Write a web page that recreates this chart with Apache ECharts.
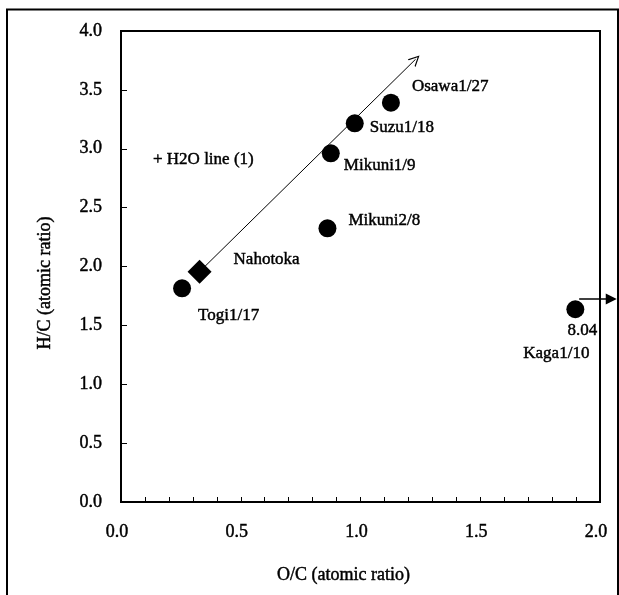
<!DOCTYPE html>
<html>
<head>
<meta charset="utf-8">
<script src="https://cdn.jsdelivr.net/npm/echarts@6/dist/echarts.min.js"></script>
<style>
  html, body { margin: 0; padding: 0; background: #fff; }
  #chart { width: 619px; height: 595px; }
</style>
</head>
<body>
<div id="chart"></div>
<script>
// ---- data ----
const sampleNames = ['Togi1/17', 'Mikuni1/9', 'Suzu1/18', 'Osawa1/27', 'Mikuni2/8', 'Kaga1/10'];
const oxygenCarbon = [0.255, 0.876, 0.976, 1.127, 0.862, 1.897];
const hydrogenCarbon = [1.815, 2.961, 3.216, 3.391, 2.324, 1.637];
const nahotokaName = 'Nahotoka';
const nahotokaPoint = [0.328, 1.956];
const h2oLineEnd = [1.23, 3.76];
const kagaTrueHC = '8.04';
const kagaArrowFrom = [1.913, 1.725];
const kagaArrowTo = [2.047, 1.725];
const xTicks = [0.0, 0.5, 1.0, 1.5, 2.0];
const yTicks = [0.0, 0.5, 1.0, 1.5, 2.0, 2.5, 3.0, 3.5, 4.0];
const xTitle = 'O/C (atomic ratio)';
const yTitle = 'H/C (atomic ratio)';
const h2oNote = '+ H2O line (1)';

// ---- styling (label offsets in px) ----
const labelOffsets = [[16, 27], [13, 12], [15, 4], [21, -16], [21, -8], [7, 21]];
const FONT = 'Liberation Serif';
const ink = { color: '#000', textBorderColor: '#000', textBorderWidth: 0.45 };

const chart = echarts.init(document.getElementById('chart'), null, { renderer: 'canvas' });

const circleData = oxygenCarbon.map((x, i) => ({
  value: [x, hydrogenCarbon[i]],
  name: sampleNames[i],
  label: i === 5
    ? { formatter: kagaTrueHC, align: 'center', offset: labelOffsets[i] }
    : { formatter: sampleNames[i], align: 'left', offset: labelOffsets[i] }
}));

const openArrow = 'path://M5,0 L10,11 L8.8,11 L5,2.6 L1.2,11 L0,11 Z';
const gText = (text, size, align) => ({
  text, font: size + 'px "Liberation Serif"', fill: '#000',
  stroke: '#000', lineWidth: 0.45, textAlign: align, textVerticalAlign: 'middle'
});

const option = {
  animation: false,
  backgroundColor: '#fff',
  textStyle: { fontFamily: FONT, color: '#000' },
  grid: {
    left: 121, right: 19, top: 31, bottom: 93,
    show: true, borderColor: '#000', borderWidth: 2
  },
  xAxis: {
    type: 'value', min: 0, max: 2, interval: 0.5,
    axisLine: { show: true, onZero: false, lineStyle: { color: '#000', width: 2 } },
    axisTick: { show: true, inside: true, length: 5, lineStyle: { color: '#000', width: 1 } },
    minorTick: { show: true, splitNumber: 5, length: 5, lineStyle: { color: '#000', width: 1 } },
    splitLine: { show: false },
    axisLabel: Object.assign({
      margin: 21, fontFamily: FONT, fontSize: 18, padding: [0, 8, 0, 0],
      formatter: v => xTicks.includes(v) ? v.toFixed(1) : ''
    }, ink)
  },
  yAxis: {
    type: 'value', min: 0, max: 4, interval: 0.5,
    axisLine: { show: true, onZero: false, lineStyle: { color: '#000', width: 2 } },
    axisTick: { show: true, inside: true, length: 6, lineStyle: { color: '#000', width: 1 } },
    splitLine: { show: false },
    axisLabel: Object.assign({
      margin: 19, fontFamily: FONT, fontSize: 18,
      formatter: v => yTicks.includes(v) ? v.toFixed(1) : ''
    }, ink)
  },
  graphic: [
    { type: 'rect', z: 100, silent: true,
      shape: { x: 7, y: 9.5, width: 611, height: 620 },
      style: { fill: 'none', stroke: '#000', lineWidth: 2 } },
    { type: 'text', z: 100, x: 343.5, y: 575, style: gText(xTitle, 18, 'center') },
    { type: 'text', z: 100, x: 45, y: 283, rotation: Math.PI / 2, style: gText(yTitle, 18, 'center') },
    { type: 'text', z: 100, x: 153, y: 160, style: gText(h2oNote, 17, 'left') }
  ],
  series: [
    {
      type: 'lines', coordinateSystem: 'cartesian2d', clip: false, z: 3,
      symbol: ['none', openArrow], symbolSize: [9, 11],
      lineStyle: { color: '#000', width: 1, opacity: 1 },
      data: [{ coords: [nahotokaPoint, h2oLineEnd] }]
    },
    {
      type: 'lines', coordinateSystem: 'cartesian2d', clip: false, z: 3,
      symbol: ['none', 'triangle'], symbolSize: [10, 11],
      lineStyle: { color: '#000', width: 1.5, opacity: 1 },
      data: [{ coords: [kagaArrowFrom, kagaArrowTo] }]
    },
    {
      type: 'scatter', z: 5, symbol: 'circle', symbolSize: 18,
      itemStyle: { color: '#000', opacity: 1 },
      label: Object.assign({
        show: true, position: 'inside', verticalAlign: 'middle',
        fontFamily: FONT, fontSize: 17
      }, ink),
      data: circleData
    },
    {
      type: 'scatter', z: 5, symbol: 'diamond', symbolSize: [24, 24],
      itemStyle: { color: '#000', opacity: 1 },
      label: Object.assign({
        show: true, position: 'inside', align: 'left', verticalAlign: 'middle',
        offset: [34, -12], fontFamily: FONT, fontSize: 17,
        formatter: nahotokaName
      }, ink),
      data: [nahotokaPoint]
    },
    {
      type: 'scatter', z: 5, symbol: 'circle', symbolSize: 1,
      itemStyle: { color: 'rgba(0,0,0,0)', opacity: 1 },
      label: Object.assign({
        show: true, position: 'inside', align: 'center', verticalAlign: 'middle',
        offset: [-19, 44], fontFamily: FONT, fontSize: 17,
        formatter: sampleNames[5]
      }, ink),
      data: [[oxygenCarbon[5], hydrogenCarbon[5]]]
    }
  ]
};
chart.setOption(option);
</script>
</body>
</html>
